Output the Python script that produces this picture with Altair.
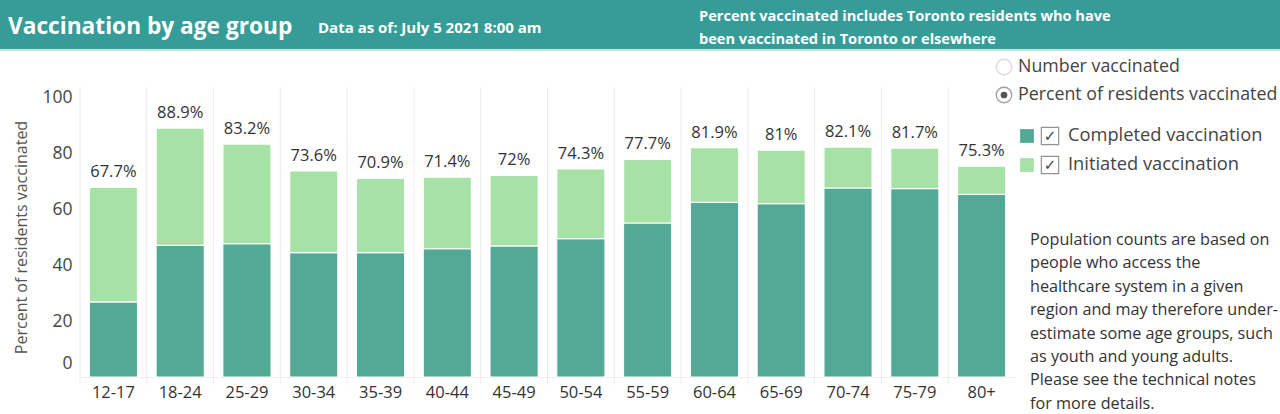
import altair as alt
import pandas as pd

# ---- data -------------------------------------------------------------
age_groups = ["12-17", "18-24", "25-29", "30-34", "35-39", "40-44", "45-49",
              "50-54", "55-59", "60-64", "65-69", "70-74", "75-79", "80+"]
pct_total = [67.7, 88.9, 83.2, 73.6, 70.9, 71.4, 72, 74.3, 77.7, 81.9, 81,
             82.1, 81.7, 75.3]
pct_completed = [26.8, 47.0, 47.6, 44.4, 44.4, 45.8, 46.8, 49.4, 55.0, 62.4,
                 61.9, 67.5, 67.3, 65.2]

series_names = ["Completed vaccination", "Initiated vaccination"]
series_colors = ["#54a996", "#a6e2a5"]
view_options = ["Number vaccinated", "Percent of residents vaccinated"]
selected_option = "Percent of residents vaccinated"

title_text = "Vaccination by age group"
date_text = "Data as of: July 5 2021 8:00 am"
header_note = ["Percent vaccinated includes Toronto residents who have",
               "been vaccinated in Toronto or elsewhere"]
side_note = ["Population counts are based on",
             "people who access the",
             "healthcare system in a given",
             "region and may therefore under-",
             "estimate some age groups, such",
             "as youth and young adults.",
             "Please see the technical notes",
             "for more details."]

FONT = "Open Sans"
HEADER = "#359c98"

df = pd.DataFrame({"age": age_groups, "total": pct_total,
                   "completed": pct_completed})

x_scale = alt.Scale(domain=age_groups, paddingInner=0.28, paddingOuter=0.14)
y_scale = alt.Scale(domain=[0, 100], nice=False)
x_axis = alt.Axis(title=None, labelAngle=0, ticks=False, domainColor="#eeeeee",
                  labelFont=FONT, labelFontSize=16.5, labelColor="#333333",
                  labelPadding=7)


def x_enc(**kw):
    return alt.X("age:N", scale=x_scale, sort=age_groups, axis=x_axis, **kw)


base = alt.Chart(df)

completed_bars = base.mark_bar(color=series_colors[0], stroke="white",
                               strokeWidth=1).encode(
    x=x_enc(),
    y=alt.Y("completed:Q", scale=y_scale,
            axis=alt.Axis(title="Percent of residents vaccinated",
                          values=[0, 20, 40, 60, 80, 100], grid=False,
                          ticks=False, domain=False, labelFont=FONT,
                          labelFontSize=17.5, labelColor="#444444",
                          labelPadding=8,
                          labelOffset={"condition": {"test": "datum.value === 0",
                                                     "value": -14},
                                       "value": 0},
                          titleFont=FONT, titleFontSize=16,
                          titleFontWeight="normal", titleColor="#555555",
                          titlePadding=12)),
    y2=alt.value(280),
)

initiated_bars = base.mark_bar(color=series_colors[1], stroke="white",
                               strokeWidth=1.2).encode(
    x=x_enc(),
    y=alt.Y("total:Q", scale=y_scale, axis=None),
    y2="completed:Q",
)

# light separators between age columns
separators = base.mark_rule(color="#ececec", strokeWidth=1, xOffset=-9.35).encode(
    x=x_enc(bandPosition=0),
    y=alt.value(-10), y2=alt.value(288),
)

pct_labels = base.transform_calculate(
    label="format(datum.total, '.1~f') + '%'"
).mark_text(font=FONT, fontSize=16.5, color="#333333", baseline="bottom",
            dy=-7).encode(
    x=x_enc(),
    y=alt.Y("total:Q", scale=y_scale, axis=None),
    text="label:N",
)

# ---- header band --------------------------------------------------------
one = alt.Chart(pd.DataFrame({"k": [0]}))
header_rect = one.mark_rect(color=HEADER).encode(
    x=alt.value(-80), x2=alt.value(1200), y=alt.value(-97), y2=alt.value(-48))
header_line = one.mark_rule(color="#bfe6e6", strokeWidth=2).encode(
    x=alt.value(-80), x2=alt.value(1200), y=alt.value(-47))
header_title = one.mark_text(font=FONT, fontSize=22.7, fontWeight="bold",
                             color="white", align="left",
                             baseline="middle").encode(
    x=alt.value(-72), y=alt.value(-70), text=alt.value(title_text))
header_date = one.mark_text(font=FONT, fontSize=15, fontWeight="bold",
                            color="white", align="left",
                            baseline="middle").encode(
    x=alt.value(238), y=alt.value(-69), text=alt.value(date_text))
note_df = pd.DataFrame({"t": header_note,
                        "y": [-80 + 23 * i for i in range(len(header_note))]})
header_notes = alt.Chart(note_df).mark_text(
    font=FONT, fontSize=14.6, fontWeight="bold", color="white", align="left",
    baseline="middle").encode(x=alt.value(619),
                              y=alt.Y("y:Q", scale=None, axis=None),
                              text="t:N")

# ---- radio options ------------------------------------------------------
radio_df = pd.DataFrame({"opt": view_options,
                         "y": [-30 + 28 * i for i in range(len(view_options))],
                         "sel": [o == selected_option for o in view_options]})
radio = alt.Chart(radio_df)
ry = alt.Y("y:Q", scale=None, axis=None)
radio_ring = radio.mark_point(shape="circle", size=240, filled=False,
                              strokeWidth=1.3).encode(
    x=alt.value(924), y=ry,
    color=alt.condition("datum.sel", alt.value("#777777"), alt.value("#cccccc")))
radio_dot = radio.transform_filter("datum.sel").mark_point(
    shape="circle", size=45, filled=True, color="#555555", opacity=1).encode(
    x=alt.value(924), y=ry)
radio_text = radio.mark_text(font=FONT, fontSize=17.8, color="#444444",
                             align="left", baseline="middle").encode(
    x=alt.value(938), y=ry, text="opt:N")

# ---- series legend with check boxes ------------------------------------
leg_df = pd.DataFrame({"name": series_names, "col": series_colors,
                       "y": [39 + 29 * i for i in range(len(series_names))]})
leg = alt.Chart(leg_df)
leg_swatch = leg.mark_square(size=190, opacity=1).encode(
    x=alt.value(947), y=ry, color=alt.Color("col:N", scale=None))
leg_box = leg.mark_point(shape="square", size=300, filled=False,
                         color="#666666", strokeWidth=1.2).encode(
    x=alt.value(970), y=ry)
leg_check = leg.mark_text(text="\u2713", font="DejaVu Sans", fontSize=15,
                          color="#444444", baseline="middle").encode(
    x=alt.value(970), y=ry)
leg_text = leg.mark_text(font=FONT, fontSize=18.3, color="#444444",
                         align="left", baseline="middle").encode(
    x=alt.value(988), y=ry, text="name:N")

# ---- side note ----------------------------------------------------------
side_df = pd.DataFrame({"t": side_note,
                        "y": [143 + 23.4 * i for i in range(len(side_note))]})
side_text = alt.Chart(side_df).mark_text(
    font=FONT, fontSize=16.2, color="#333333", align="left",
    baseline="middle").encode(x=alt.value(950), y=ry, text="t:N")

chart = alt.layer(
    header_rect, header_line, header_title, header_date, header_notes,
    completed_bars, initiated_bars, separators, pct_labels,
    radio_ring, radio_dot, radio_text,
    leg_swatch, leg_box, leg_check, leg_text, side_text,
).resolve_scale(y="independent", color="independent").properties(
    width=935, height=280,
    autosize=alt.AutoSizeParams(type="none"),
    padding={"left": 80, "top": 97, "right": 265, "bottom": 37},
    background="white",
).configure_view(stroke=None)

chart.save("out.html", embed_options={"renderer": "svg", "actions": False})
